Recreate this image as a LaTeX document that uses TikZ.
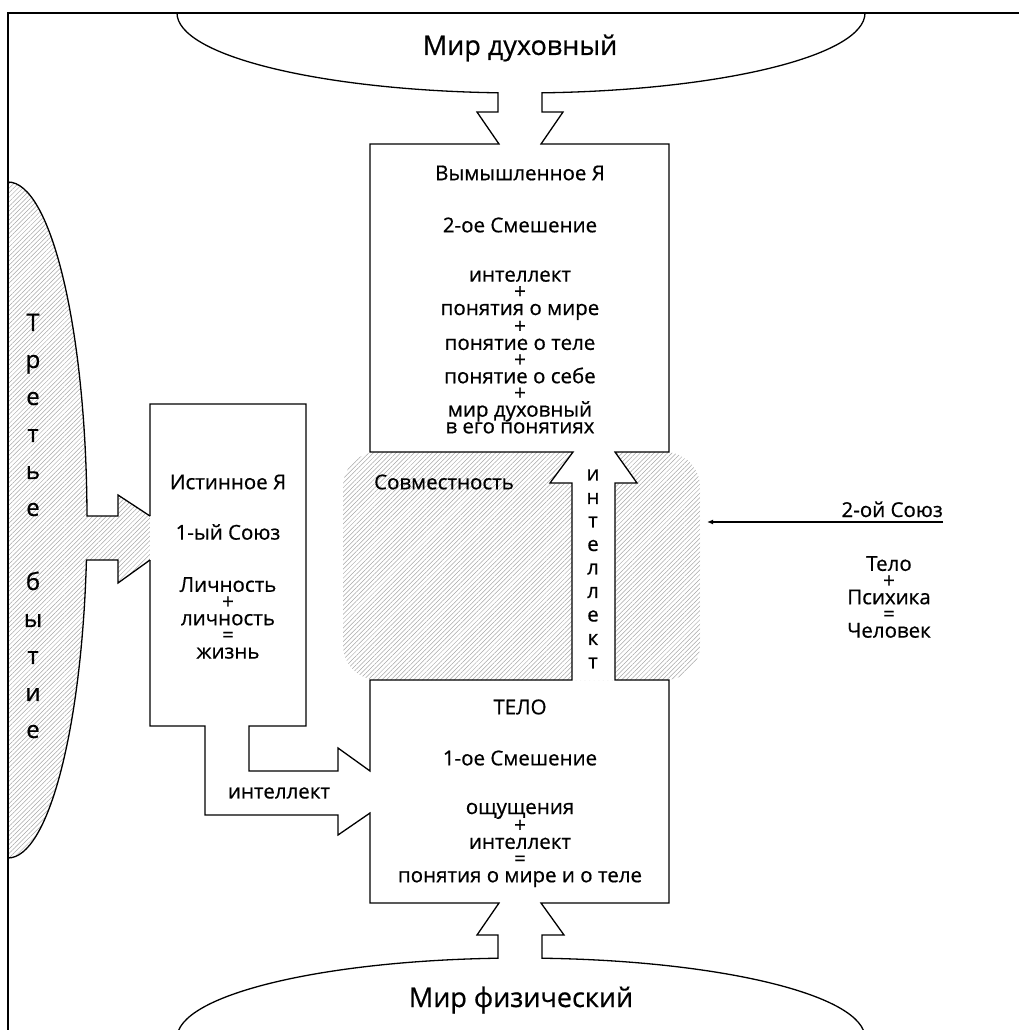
\documentclass[tikz,border=0pt]{standalone}
\usepackage{fontspec}
\setmainfont{Open Sans}[UprightFeatures={FakeBold=0.6}]
\usetikzlibrary{patterns.meta,arrows.meta}

\begin{document}
\begin{tikzpicture}[x=1pt,y=-1pt]
  \tikzstyle{every node}=[inner sep=0pt,align=center,font=\fontsize{20.5}{16.7}\selectfont]
  \tikzstyle{outl}=[line width=1.3pt,line join=miter]
  \tikzstyle{hatch}=[pattern={Lines[angle=45,distance=3.2pt,line width=0.5pt]},pattern color=black!35]
  \tikzstyle{big}=[font=\fontsize{27}{30}\selectfont]
  \useasboundingbox (0,0) rectangle (1019,1030);
  \clip (0,0) rectangle (1019,1030);

  % hatched areas
  \fill[hatch] (8,182) arc[start angle=270,end angle=359.32,x radius=79,y radius=338]
    -- (118,516) -- (118,495) -- (150,516) -- (150,560) -- (118,583) -- (118,560)
    -- (86.44,560) arc[start angle=6.8,end angle=90,x radius=79,y radius=338] -- cycle;
  \fill[hatch,rounded corners=35pt] (343,452) rectangle (700,680);
  \fill[white] (573,452) -- (550,483) -- (572,483) -- (572,680) -- (615,680)
    -- (615,483) -- (637,483) -- (615,452) -- cycle;

  % frame
  \draw[outl] (8,1040) -- (8,13) -- (1030,13);

  % Third being
  \draw[outl] (8,182) arc[start angle=270,end angle=359.32,x radius=79,y radius=338]
    -- (118,516) -- (118,495) -- (150,516);
  \draw[outl] (150,560) -- (118,583) -- (118,560)
    -- (86.44,560) arc[start angle=6.8,end angle=90,x radius=79,y radius=338];

  % left outline
  \draw[outl] (177,13) arc[start angle=180,end angle=93.84,x radius=344,y radius=80]
    -- (498,112) -- (477,112) -- (499,144) -- (370,144) -- (370,452)
    -- (573,452) -- (550,483) -- (572,483) -- (572,680) -- (370,680)
    -- (370,771) -- (338,748) -- (338,771) -- (249,771) -- (249,726)
    -- (306,726) -- (306,404) -- (150,404) -- (150,516);
  \draw[outl] (150,560) -- (150,726) -- (205,726) -- (205,815) -- (338,815)
    -- (338,835) -- (370,813) -- (370,903) -- (499,903) -- (477,935)
    -- (498,935) -- (498,958.2) arc[start angle=266.16,end angle=180,x radius=344,y radius=80];

  % right outline
  \draw[outl] (865,13) arc[start angle=0,end angle=86.5,x radius=344,y radius=80]
    -- (542,112) -- (563,112) -- (541,144) -- (669,144) -- (669,452)
    -- (615,452) -- (637,483) -- (615,483) -- (615,680) -- (669,680)
    -- (669,903) -- (541,903) -- (564,935) -- (542,935)
    -- (542,958.2) arc[start angle=273.5,end angle=360,x radius=344,y radius=80];

  % texts
  \node[big] (mirduh) at (520,48) {Мир духовный};
  \node (yavym)  at (520,173) {Вымышленное Я};
  \node (smesh2) at (520,225) {2-ое Смешение};
  \node (sum2)   at (520,352) {интеллект\\+\\понятия о мире\\+\\понятие о теле\\+\\понятие о себе\\+\\мир духовный\\в его понятиях};
  \node (istya)  at (228,482) {Истинное Я};
  \node (soyuz1) at (228,532) {1-ый Союз};
  \node (sum1)   at (228,618) {Личность\\+\\личность\\=\\жизнь};
  \node (sovm)   at (444,482) {Совместность};
  \node[font=\fontsize{20.5}{23.5}\selectfont] (intv) at (593,569) {и\\н\\т\\е\\л\\л\\е\\к\\т};
  \node[font=\fontsize{24}{37}\selectfont] (tretye) at (33,526) {Т\\р\\е\\т\\ь\\е\\ \\б\\ы\\т\\и\\е};
  \node (telo)   at (520,707) {ТЕЛО};
  \node (smesh1) at (520,758) {1-ое Смешение};
  \node (sum3)   at (520,845) {ощущения\\+\\интеллект\\=\\понятия о мире и о теле};
  \node (intel)  at (279,793) {интеллект};
  \node[big] (mirfiz) at (521,1000) {Мир физический};
  \node[anchor=base east] (soyuz2) at (943,517) {2-ой Союз};
  \node (sum4)   at (889,597) {Тело\\+\\Психика\\=\\Человек};

  \coordinate (uend) at (943,522);
  \coordinate (utip) at (707,522);
  \draw[-{Latex[length=6pt,width=5pt]},line width=1.2pt] (uend) -- (utip);
\end{tikzpicture}
\end{document}
